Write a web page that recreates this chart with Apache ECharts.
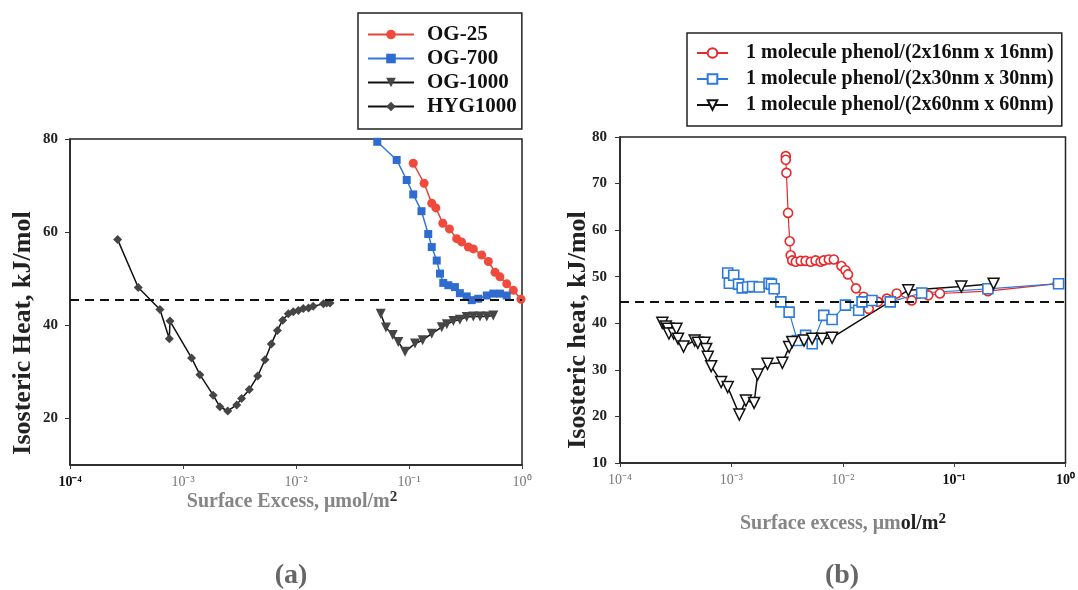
<!DOCTYPE html>
<html><head><meta charset="utf-8">
<script src="https://cdn.jsdelivr.net/npm/echarts@6/dist/echarts.min.js"></script>
<style>html,body{margin:0;padding:0;background:#fff}#c{width:1078px;height:590px}</style>
</head><body><div id="c"></div>
<script>
// ---------- Panel (a) data ----------
const og25X = [0.109,0.136,0.159,0.173,0.199,0.228,0.264,0.292,0.335,0.371,0.440,0.504,0.577,0.638,0.733,0.838,0.98];
const og25Y = [74.8,70.5,66.2,65.2,61.9,60.7,58.6,57.9,56.8,56.4,55.1,53.7,51.4,50.4,48.9,47.5,45.6];
const og700X = [0.0524,0.0778,0.0955,0.109,0.129,0.148,0.159,0.176,0.188,0.201,0.223,0.255,0.282,0.324,0.359,0.410,0.488,0.557,0.638,0.733];
const og700Y = [79.4,75.5,71.2,68.1,64.5,59.6,56.8,53.9,51.1,49.1,48.6,48.2,46.9,46.2,45.4,45.7,46.4,46.8,46.8,46.4];
const og1000X = [0.0562,0.0625,0.0718,0.0804,0.0923,0.113,0.132,0.159,0.195,0.216,0.247,0.282,0.324,0.371,0.425,0.488,0.557];
const og1000Y = [42.5,39.5,37.9,36.4,34.3,36.1,36.8,38.2,39.6,40.2,40.9,41.2,41.8,41.9,41.9,41.9,42.1];
const hygX = [2.64e-4,4.02e-4,6.25e-4,7.57e-4,7.67e-4,1.19e-3,1.41e-3,1.85e-3,2.12e-3,2.49e-3,2.99e-3,3.30e-3,3.86e-3,4.58e-3,5.32e-3,6.05e-3,6.84e-3,7.62e-3,8.55e-3,9.46e-3,1.05e-2,1.16e-2,1.29e-2,1.42e-2,1.75e-2,1.87e-2,2.00e-2];
const hygY = [58.4,48.1,43.4,37.1,40.9,33.0,29.4,25.0,22.5,21.6,22.9,24.3,26.2,29.1,32.6,36.0,38.9,41.1,42.5,42.9,43.2,43.6,43.7,44.1,44.6,44.8,44.8];
const refLineA = 45.4;

// ---------- Panel (b) data ----------
const p16X = [3.08e-3,3.08e-3,3.12e-3,3.23e-3,3.34e-3,3.41e-3,3.52e-3,3.79e-3,4.19e-3,4.64e-3,5.15e-3,5.70e-3,6.32e-3,6.76e-3,7.50e-3,8.32e-3,9.73e-3,1.057e-2,1.114e-2,1.315e-2,1.54e-2,1.71e-2,2.07e-2,2.49e-2,3.05e-2,4.16e-2,5.86e-2,7.45e-2,0.201,0.849];
const p16Y = [75.9,75.1,72.3,63.7,57.6,54.6,53.5,53.2,53.4,53.4,53.2,53.5,53.2,53.5,53.7,53.7,52.3,51.4,50.5,47.5,45.7,43.1,44.6,45.3,46.4,44.9,46.0,46.4,46.9,48.5];
const p30X = [9.27e-4,9.59e-4,1.05e-3,1.16e-3,1.25e-3,1.40e-3,1.55e-3,1.78e-3,2.18e-3,2.29e-3,2.42e-3,2.78e-3,3.30e-3,3.91e-3,4.64e-3,5.32e-3,6.76e-3,8.02e-3,1.057e-2,1.39e-2,1.49e-2,1.83e-2,2.67e-2,5.11e-2,0.201,0.867];
const p30Y = [50.8,48.6,50.3,48.4,47.6,47.8,47.9,47.8,48.6,48.4,47.4,44.6,42.4,36.3,37.4,35.6,41.7,40.8,43.9,42.8,44.6,44.9,44.6,46.5,47.4,48.5];
const p60X = [2.40e-4,2.58e-4,2.70e-4,2.75e-4,3.03e-4,3.21e-4,3.32e-4,3.72e-4,4.68e-4,5.00e-4,5.74e-4,5.94e-4,6.14e-4,6.59e-4,8.09e-4,9.27e-4,1.18e-3,1.35e-3,1.60e-3,1.72e-3,2.11e-3,2.87e-3,3.30e-3,3.52e-3,4.49e-3,5.32e-3,6.53e-3,8.02e-3,3.88e-2,0.116,0.226];
const p60Y = [40.1,39.3,38.8,37.8,37.8,38.8,36.7,35.0,36.3,35.8,35.8,34.5,32.8,30.8,27.4,26.3,20.4,23.4,22.9,29.0,31.3,31.5,34.9,36.0,36.3,36.7,36.7,36.9,47.1,47.9,48.5];
const refLineB = 44.7;

// ---------- Axis ticks ----------
const xTickExps = [-4,-3,-2,-1,0];
const yTicksA = [20,40,60,80];
const yTicksB = [10,20,30,40,50,60,70,80];

const zip = (xs, ys) => xs.map((x, i) => [x, ys[i]]);
const SUP = {'-':'\u207B','0':'\u2070','1':'\u00B9','2':'\u00B2','3':'\u00B3','4':'\u2074'};
const pow10 = e => '10' + String(e).split('').map(c => SUP[c]).join('');
const SERIF = '"Liberation Serif","Times New Roman",serif';

function xAxisCfg(grid, darkExps) {
  return {
    type: 'log', logBase: 10, min: Math.pow(10, xTickExps[0]), max: Math.pow(10, xTickExps[xTickExps.length - 1]), gridIndex: grid,
    axisLine: {show: true, lineStyle: {color: '#222', width: 1.5}},
    axisTick: {show: true, inside: false, length: 4, lineStyle: {color: '#444'}},
    splitLine: {show: false}, minorTick: {show: false},
    axisLabel: {
      margin: 10,
      formatter: v => {
        const e = Math.round(Math.log10(v));
        return (darkExps.includes(e) ? '{k|' : '{g|') + pow10(e) + '}';
      },
      rich: {
        k: {fontFamily: SERIF, fontWeight: 'bold', fontSize: 14, color: '#111'},
        g: {fontFamily: SERIF, fontSize: 14, color: '#777'}
      }
    }
  };
}
function yAxisCfg(grid, ticks, margin) {
  return {
    type: 'value', min: 10, max: 80, interval: 10, gridIndex: grid,
    axisLine: {show: true, lineStyle: {color: '#222', width: 1.5}},
    axisTick: {show: true, length: 5, customValues: ticks, lineStyle: {color: '#333'}},
    splitLine: {show: false},
    axisLabel: {customValues: ticks, margin: margin, fontFamily: SERIF, fontWeight: 'bold', fontSize: 15, color: '#222'}
  };
}

const dashed = (v) => ({
  silent: true, symbol: 'none', label: {show: false},
  lineStyle: {color: '#111', type: [9, 6], width: 2},
  data: [{yAxis: v}]
});

const option = {
  animation: false,
  backgroundColor: '#fff',
  grid: [
    {left: 70, right: 556, top: 139, bottom: 125, show: true, borderColor: '#222', borderWidth: 1.5},
    {left: 620, right: 10, top: 137, bottom: 127, show: true, borderColor: '#222', borderWidth: 1.5}
  ],
  xAxis: [xAxisCfg(0, [-4]), xAxisCfg(1, [-1, 0])],
  yAxis: [yAxisCfg(0, yTicksA, 12), yAxisCfg(1, yTicksB, 13)],
  legend: [
    {
      data: ['OG-25', 'OG-700', 'OG-1000', 'HYG1000'],
      orient: 'vertical', left: 358, top: 13,
      padding: [11, 5, 12, 9], itemGap: 3, itemWidth: 46, itemHeight: 12,
      borderColor: '#222', borderWidth: 1.5, backgroundColor: '#fff',
      textStyle: {fontFamily: SERIF, fontWeight: 'bold', fontSize: 21, color: '#111', padding: [0, 0, 0, 8]}
    },
    {
      data: ['1 molecule phenol/(2x16nm x 16nm)', '1 molecule phenol/(2x30nm x 30nm)', '1 molecule phenol/(2x60nm x 60nm)'],
      orient: 'vertical', left: 687, top: 33,
      padding: [10, 8, 11, 9], itemGap: 6, itemWidth: 31, itemHeight: 12,
      borderColor: '#222', borderWidth: 1.5, backgroundColor: '#fff',
      textStyle: {fontFamily: SERIF, fontWeight: 'bold', fontSize: 20, color: '#111', padding: [0, 0, 0, 13]}
    }
  ],
  graphic: [
    {type: 'text', x: 23, y: 333, rotation: Math.PI / 2,
     style: {text: 'Isosteric Heat, kJ/mol', font: 'bold 26px ' + SERIF, fill: '#222', align: 'center', verticalAlign: 'middle'}},
    {type: 'text', x: 578, y: 330, rotation: Math.PI / 2,
     style: {text: 'Isosteric heat, kJ/mol', font: 'bold 26px ' + SERIF, fill: '#222', align: 'center', verticalAlign: 'middle'}},
    {type: 'text', x: 292, y: 502,
     style: {text: '{g|Surface Excess, \u03BCmol/m}{s|\u00B2}', align: 'center', verticalAlign: 'middle',
       rich: {g: {fontFamily: SERIF, fontWeight: 'bold', fontSize: 20, fill: '#858585'},
              s: {fontFamily: SERIF, fontWeight: 'bold', fontSize: 25, fill: '#333'}}}},
    {type: 'text', x: 843, y: 524,
     style: {text: '{g|Surface excess, \u03BCm}{k|ol/m}{s|\u00B2}', align: 'center', verticalAlign: 'middle',
       rich: {g: {fontFamily: SERIF, fontWeight: 'bold', fontSize: 20, fill: '#858585'},
              k: {fontFamily: SERIF, fontWeight: 'bold', fontSize: 20, fill: '#222'},
              s: {fontFamily: SERIF, fontWeight: 'bold', fontSize: 25, fill: '#222'}}}},
    {type: 'text', x: 291, y: 576,
     style: {text: '(a)', font: 'bold 28px ' + SERIF, fill: '#666', align: 'center', verticalAlign: 'middle'}},
    {type: 'text', x: 842, y: 576,
     style: {text: '(b)', font: 'bold 28px ' + SERIF, fill: '#666', align: 'center', verticalAlign: 'middle'}}
  ],
  series: [
    {name: 'OG-25', type: 'line', xAxisIndex: 0, yAxisIndex: 0, data: zip(og25X, og25Y),
     symbol: 'circle', symbolSize: 9, color: '#ef4a3c',
     lineStyle: {color: '#e0463a', width: 1.5}, itemStyle: {color: '#f04a3c'}},
    {name: 'OG-700', type: 'line', xAxisIndex: 0, yAxisIndex: 0, data: zip(og700X, og700Y),
     symbol: 'rect', symbolSize: 8, color: '#2f6fd3',
     lineStyle: {color: '#3577d6', width: 1.5}, itemStyle: {color: '#2f6cd0'}},
    {name: 'OG-1000', type: 'line', xAxisIndex: 0, yAxisIndex: 0, data: zip(og1000X, og1000Y),
     symbol: 'triangle', symbolRotate: 180, symbolSize: 10, color: '#444',
     lineStyle: {color: '#111', width: 1.5}, itemStyle: {color: '#454545'}},
    {name: 'HYG1000', type: 'line', xAxisIndex: 0, yAxisIndex: 0, data: zip(hygX, hygY),
     symbol: 'diamond', symbolSize: 9, color: '#444',
     lineStyle: {color: '#111', width: 1.5}, itemStyle: {color: '#454545'},
     markLine: dashed(refLineA)},
    {name: '1 molecule phenol/(2x16nm x 16nm)', type: 'line', xAxisIndex: 1, yAxisIndex: 1, data: zip(p16X, p16Y),
     symbol: 'circle', symbolSize: 9, color: '#e8282a',
     lineStyle: {color: '#e8282a', width: 1.2}, itemStyle: {color: '#fff', borderColor: '#e8282a', borderWidth: 1.6}},
    {name: '1 molecule phenol/(2x30nm x 30nm)', type: 'line', xAxisIndex: 1, yAxisIndex: 1, data: zip(p30X, p30Y),
     symbol: 'rect', symbolSize: 10, color: '#2d7bd8',
     lineStyle: {color: '#2d7bd8', width: 1.2}, itemStyle: {color: '#fff', borderColor: '#2d7bd8', borderWidth: 1.6}},
    {name: '1 molecule phenol/(2x60nm x 60nm)', type: 'line', xAxisIndex: 1, yAxisIndex: 1, data: zip(p60X, p60Y),
     symbol: 'triangle', symbolRotate: 180, symbolSize: 11, color: '#111',
     lineStyle: {color: '#111', width: 1.5}, itemStyle: {color: '#fff', borderColor: '#111', borderWidth: 1.5},
     markLine: dashed(refLineB)}
  ]
};
const chart = echarts.init(document.getElementById('c'), null, {renderer: 'canvas'});
chart.setOption(option);
</script>
</body></html>
